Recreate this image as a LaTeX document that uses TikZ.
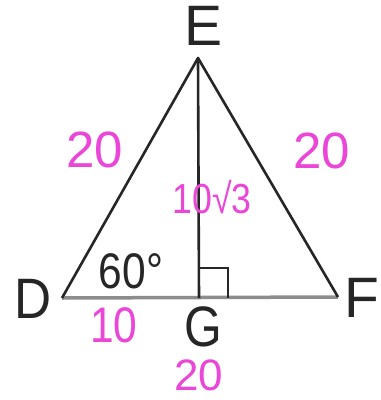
\documentclass[tikz,border=0pt]{standalone}
\usepackage{fontspec}
\setmainfont{Liberation Sans}
\definecolor{pinkink}{RGB}{235,70,215}
\begin{document}
\begin{tikzpicture}[x=1pt,y=-1pt,
  vlabel/.style={inner sep=0pt,anchor=base,text=black!85,font=\fontsize{57}{57}\selectfont},
  pinklabel/.style={inner sep=0pt,anchor=base,text=pinkink,font=\fontsize{51}{51}\selectfont},
  side/.style={line width=2.6pt,black!85},
  basestyle/.style={line width=3.5pt,black!45},
  rightmark/.style={line width=1.4pt,black!85}]
\useasboundingbox (0,0) rectangle (381,400);
\fill[white] (0,0) rectangle (381,400);
% vertices
\coordinate (D) at (62,298);
\coordinate (E) at (198,58);
\coordinate (F) at (338,297);
\coordinate (G) at (199,298);
% triangle
\draw[basestyle] (D) -- (F);
\draw[side,line join=round] (D) -- (E) -- (F);
\draw[side] (E) -- (G);
% right angle mark
\coordinate (R1) at (199,268);
\coordinate (R2) at (228,268);
\coordinate (R3) at (228,298);
\draw[rightmark] (R1) -- (R2) -- (R3);
% vertex labels
\node[vlabel] (lE) at (204,45) {E};
\node[vlabel,xscale=0.9] (lD) at (33,318) {D};
\node[vlabel] (lF) at (362,317) {F};
\node[vlabel,xscale=0.85] (lG) at (203,346) {G};
% measures
\node[pinklabel] (sDE) at (95,167) {20};
\node[pinklabel] (sEF) at (322,168) {20};
\node[pinklabel,font=\fontsize{42}{42}\selectfont,xscale=0.85] (sEG) at (212,213) {10√3};
\node[inner sep=0pt,anchor=base,text=black!85,font=\fontsize{50}{50}\selectfont,xscale=0.85] (ang) at (131,288) {60°};
\node[pinklabel,font=\fontsize{50}{50}\selectfont,xscale=0.85] (sDG) at (114,342) {10};
\node[pinklabel,font=\fontsize{44}{44}\selectfont] (sDF) at (199,390) {20};
\end{tikzpicture}
\end{document}
